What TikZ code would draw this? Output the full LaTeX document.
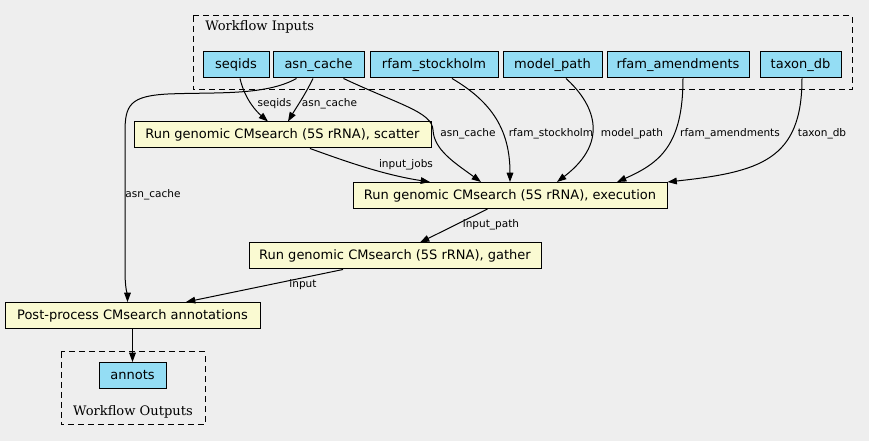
\documentclass[tikz,border=0pt]{standalone}
\usepackage{fontspec}
\setmainfont{DejaVu Sans}
\newfontfamily\clfont{DejaVu Serif}
\usetikzlibrary{calc,arrows.meta}
\definecolor{bg}{HTML}{EEEEEE}
\definecolor{taskfill}{HTML}{FAFAD2}
\definecolor{iofill}{HTML}{94DDF4}
\tikzset{
  box/.style={draw=black,line width=0.75pt,inner sep=0pt,minimum height=19.5pt,font=\fontsize{9.75}{11}\selectfont},
  task/.style={box,fill=taskfill},
  io/.style={box,fill=iofill},
  cluster/.style={draw=black,line width=0.75pt,dash pattern=on 4.5pt off 3pt},
  edge/.style={draw=black,line width=0.75pt,-{Triangle[length=7pt,width=5pt]}},
  elabel/.style={font=\fontsize{7.9}{9}\selectfont,inner sep=0pt},
  cllabel/.style={font=\clfont\fontsize{9.8}{11}\selectfont,inner sep=0pt}
}
\begin{document}
\begin{tikzpicture}[x=0.75pt,y=-0.75pt]
\useasboundingbox (0,0) rectangle (869,441);
\fill[bg] (0,0) rectangle (869,441);
% clusters
\draw[cluster] (193,16) rectangle (852,90);
\node[cllabel,anchor=west] (inlab) at (205,27) {Workflow Inputs};
\draw[cluster] (61,352) rectangle (205,425);
\node[cllabel] (outlab) at (133,412) {Workflow Outputs};
% inputs
\node[io,minimum width=49.5pt] (seqids) at (236,65) {seqids};
\node[io,minimum width=68.25pt] (asn) at (318.5,65) {asn\_cache};
\node[io,minimum width=96pt] (stock) at (434,65) {rfam\_stockholm};
\node[io,minimum width=74.25pt] (model) at (552.5,65) {model\_path};
\node[io,minimum width=106.5pt] (amend) at (678,65) {rfam\_amendments};
\node[io,minimum width=60.75pt] (taxon) at (800.5,65) {taxon\_db};
% tasks
\node[task,minimum width=222.75pt] (scatter) at (282.5,135) {Run genomic CMsearch (5S rRNA), scatter};
\node[task,minimum width=235.5pt] (exec) at (510,195.5) {Run genomic CMsearch (5S rRNA), execution};
\node[task,minimum width=219pt] (gather) at (395,256) {Run genomic CMsearch (5S rRNA), gather};
\node[task,minimum width=191.25pt] (post) at (132.5,315.5) {Post-process CMsearch annotations};
\node[io,minimum width=50.25pt] (annots) at (132.5,375.5) {annots};
% edges
\draw[edge] ($(seqids.south)+(4,0)$) .. controls (245,100) and (257,112) .. ($(scatter.north)+(-14.5,0)$);
\draw[edge] ($(asn.south)+(-5.5,0)$) .. controls (305,95) and (296,108) .. ($(scatter.north)+(5.5,0)$);
\draw[edge] ($(asn.south)+(-22,0)$) .. controls (265,96) and (215,92) .. (168,94) .. controls (130,96) and (125,105) .. (125,132) -- (125,270) .. controls (125,290) and (127.5,295) .. ($(post.north)+(-5,0)$);
\draw[edge] ($(asn.south)+(25,0)$) .. controls (400,105) and (432,112) .. (433,130) .. controls (434,150) and (455,163) .. ($(exec.north)+(-29,0)$);
\draw[edge] ($(stock.south)+(18,0)$) .. controls (492,102) and (510,130) .. ($(exec.north)+(0,0)$);
\draw[edge] ($(model.south)+(13.5,0)$) .. controls (592,102) and (612,140) .. ($(exec.north)+(47,0)$);
\draw[edge] ($(amend.south)+(5,0)$) .. controls (683,145) and (660,163) .. ($(exec.north)+(107,0)$);
\draw[edge] ($(taxon.south)+(1.5,0)$) .. controls (802,160) and (760,172) .. (exec.north east);
\draw[edge] ($(scatter.south)+(27.5,0)$) .. controls (350,163) and (385,175) .. ($(exec.north)+(-80,0)$);
\draw[edge] ($(exec.south)+(-22.5,0)$) -- ($(gather.north)+(25,0)$);
\draw[edge] ($(gather.south)+(-52,0)$) -- ($(post.north)+(53.5,0)$);
\draw[edge] (post.south) -- (annots.north);
% edge labels
\node[elabel] (l1) at (274.5,104) {seqids};
\node[elabel] (l2) at (329.5,104) {asn\_cache};
\node[elabel] (l3) at (153,195) {asn\_cache};
\node[elabel] (l4) at (406,165) {input\_jobs};
\node[elabel] (l5) at (468,134) {asn\_cache};
\node[elabel] (l6) at (551,134) {rfam\_stockholm};
\node[elabel] (l7) at (632,134) {model\_path};
\node[elabel] (l8) at (730,134) {rfam\_amendments};
\node[elabel] (l9) at (822,134) {taxon\_db};
\node[elabel] (l10) at (491,225) {input\_path};
\node[elabel] (l11) at (303,285) {input};
\end{tikzpicture}
\end{document}
